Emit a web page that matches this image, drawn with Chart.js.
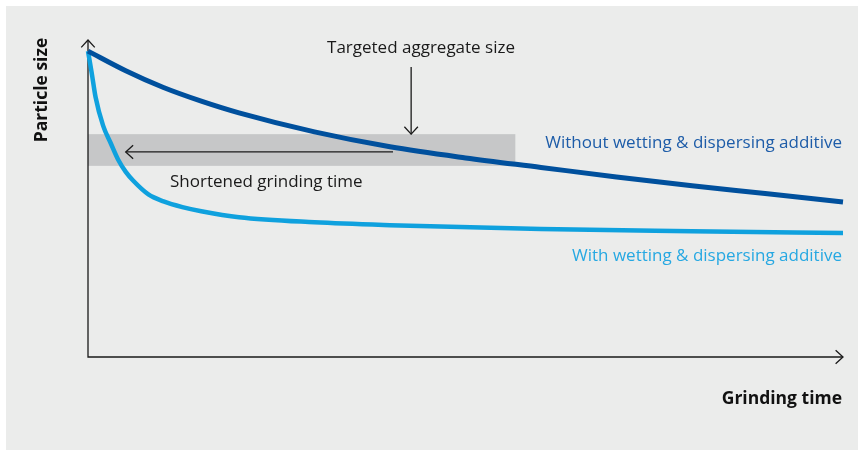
<!DOCTYPE html>
<html lang="en">
<head>
    <meta charset="UTF-8">
    <title>Grinding time vs particle size</title>
    <style>
        html, body { margin: 0; padding: 0; background: #fff; }
        #box { width: 858px; height: 450px; }
    </style>
</head>
<body>
    <div id="box">
        <canvas id="myChart" width="858" height="450"></canvas>
    </div>

<script src="https://cdn.jsdelivr.net/npm/chart.js"></script>
<script>
    // curve without additive
    const timeWithout = [0, 5, 10, 15, 20, 30, 40, 50, 60, 70, 80, 90, 100];
    const sizeWithout = [96.5, 90.3, 85, 80.7, 77, 71, 66.3, 62.8, 59.8, 56.8, 54, 51.5, 48.9];

    // curve with additive
    const timeWith = [0, 0.5, 1, 2, 3, 4, 5, 6, 8, 10, 12.5, 15, 20, 30, 40, 60, 80, 100];
    const sizeWith = [96.5, 89.5, 82, 73, 67.5, 62.2, 58.4, 55.6, 51.3, 49.1, 47.3, 46, 44.1, 42.5, 41.6, 40.4, 39.7, 39.1];

    // targeted aggregate size band
    const bandTime = [0, 56.6];
    const bandSize = [60.3, 70.3];

    const seriesLabels = ['Without wetting & dispersing additive', 'With wetting & dispersing additive'];
    const axisTitles = ['Grinding time', 'Particle size'];

    const darkBlue = '#00509d';
    const lightBlue = '#0fa1de';
    const fontName = '"Open Sans", "Noto Sans", sans-serif';

    function chevron(ctx, x, y, dir, s) {
        // open arrow head, dir = angle the tip points to
        ctx.beginPath();
        ctx.moveTo(x + s * Math.cos(dir + 2.4), y + s * Math.sin(dir + 2.4));
        ctx.lineTo(x, y);
        ctx.lineTo(x + s * Math.cos(dir - 2.4), y + s * Math.sin(dir - 2.4));
        ctx.stroke();
    }

    const decor = {
        id: 'decor',
        beforeDraw(chart) {
            const c = chart.ctx;
            c.save();
            c.fillStyle = '#ebeceb';
            c.fillRect(6, 6, chart.width - 6, chart.height - 6);
            c.restore();
        },
        beforeDatasetsDraw(chart) {
            const c = chart.ctx;
            const xs = chart.scales.x, ys = chart.scales.y;
            c.save();
            c.fillStyle = '#c6c7c8';
            const x0 = xs.getPixelForValue(bandTime[0]), x1 = xs.getPixelForValue(bandTime[1]);
            const y0 = ys.getPixelForValue(bandSize[1]), y1 = ys.getPixelForValue(bandSize[0]);
            c.fillRect(x0, y0, x1 - x0, y1 - y0);

            // axes with arrows
            const a = chart.chartArea;
            c.strokeStyle = '#1a1a1a';
            c.lineWidth = 1.3;
            c.beginPath();
            c.moveTo(a.left, a.top);
            c.lineTo(a.left, a.bottom);
            c.lineTo(a.right, a.bottom);
            c.stroke();
            chevron(c, a.left, a.top, -Math.PI / 2, 10);
            chevron(c, a.right, a.bottom, 0, 10);

            // shortened grinding time arrow
            const ay = ys.getPixelForValue(64.7);
            const ax0 = xs.getPixelForValue(5), ax1 = xs.getPixelForValue(40.4);
            c.beginPath();
            c.moveTo(ax1, ay);
            c.lineTo(ax0, ay);
            c.stroke();
            chevron(c, ax0, ay, Math.PI, 10);

            // targeted size arrow
            const dx = xs.getPixelForValue(42.8);
            const dy0 = ys.getPixelForValue(91.5), dy1 = ys.getPixelForValue(bandSize[1]);
            c.beginPath();
            c.moveTo(dx, dy0);
            c.lineTo(dx, dy1);
            c.stroke();
            chevron(c, dx, dy1, Math.PI / 2, 10);
            c.restore();
        },
        afterDatasetsDraw(chart) {
            const c = chart.ctx;
            c.save();
            c.textBaseline = 'middle';
            c.font = '17px ' + fontName;
            c.fillStyle = '#1a1a1a';
            c.textAlign = 'center';
            c.fillText('Targeted aggregate size', 421, 48);
            c.textAlign = 'left';
            c.fillText('Shortened grinding time', 170, 182);

            c.textAlign = 'right';
            c.fillStyle = '#1d5ca8';
            c.fillText(seriesLabels[0], 842, 143);
            c.fillStyle = '#26a8e2';
            c.fillText(seriesLabels[1], 842, 256);

            c.font = 'bold 17.5px ' + fontName;
            c.fillStyle = '#111';
            c.fillText(axisTitles[0], 842, 399);
            c.translate(42, 90);
            c.rotate(-Math.PI / 2);
            c.textAlign = 'center';
            c.fillText(axisTitles[1], 0, 0);
            c.restore();
        }
    };

    const ctx = document.getElementById('myChart').getContext('2d');
    const myChart = new Chart(ctx, {
        type: 'line',
        data: {
            datasets: [{
                label: seriesLabels[0],
                data: timeWithout.map((t, i) => ({ x: t, y: sizeWithout[i] })),
                borderColor: darkBlue,
                borderWidth: 5,
                pointRadius: 0,
                cubicInterpolationMode: 'monotone',
                clip: false
            },
            {
                label: seriesLabels[1],
                data: timeWith.map((t, i) => ({ x: t, y: sizeWith[i] })),
                borderColor: lightBlue,
                borderWidth: 4.5,
                pointRadius: 0,
                cubicInterpolationMode: 'monotone',
                clip: false
            }]
        },
        options: {
            responsive: false,
            animation: false,
            layout: { padding: { left: 88, right: 15, top: 40, bottom: 93 } },
            plugins: { legend: { display: false }, tooltip: { enabled: false } },
            scales: {
                x: { type: 'linear', min: 0, max: 100, display: false },
                y: { min: 0, max: 100, display: false }
            }
        },
        plugins: [decor]
    });
</script>
</body>
</html>
